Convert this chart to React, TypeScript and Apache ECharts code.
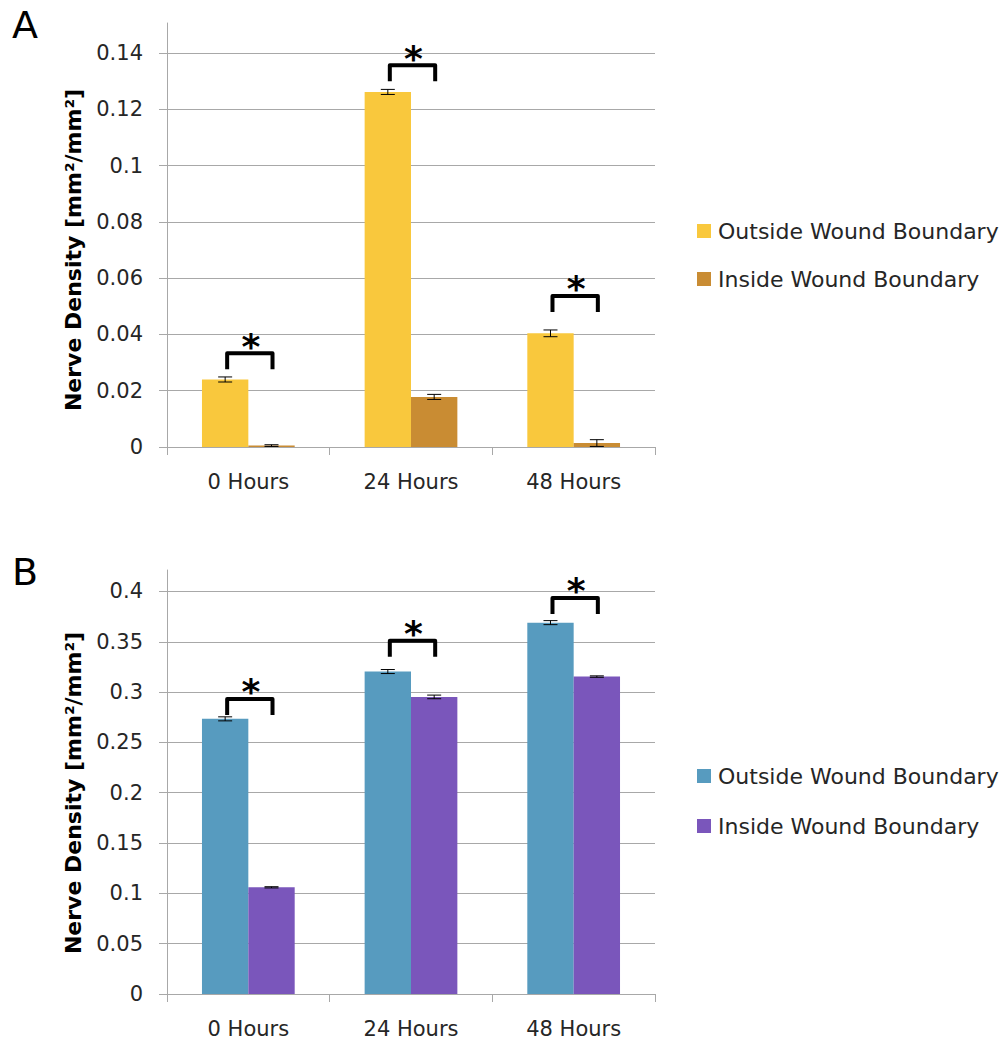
import React, { useEffect, useRef } from "react";
import * as echarts from "echarts";

const categories = ["0 Hours", "24 Hours", "48 Hours"];
const legendLabels: Record<string, string> = {
  outA: "Outside Wound Boundary",
  inA: "Inside Wound Boundary",
  outB: "Outside Wound Boundary",
  inB: "Inside Wound Boundary",
};

// Panel A
const outsideA = [0.024, 0.1262, 0.0404];
const outsideErrA = [0.0009, 0.0009, 0.0012];
const insideA = [0.0005, 0.0178, 0.0014];
const insideErrA = [0.0003, 0.0009, 0.0012];
const bracketA = [0.0333, 0.1357, 0.0537];
const yTicksA = [0, 0.02, 0.04, 0.06, 0.08, 0.1, 0.12, 0.14];
const yMaxA = 0.1507;

// Panel B
const outsideB = [0.2734, 0.3204, 0.369];
const outsideErrB = [0.002, 0.002, 0.002];
const insideB = [0.106, 0.2952, 0.3154];
const insideErrB = [0.0006, 0.0018, 0.0007];
const bracketB = [0.2932, 0.3509, 0.3936];
const yTicksB = [0, 0.05, 0.1, 0.15, 0.2, 0.25, 0.3, 0.35, 0.4];
const yMaxB = 0.4213;

const colorsA = ["#F9C83D", "#C98C33"];
const colorsB = ["#579BBF", "#7A56BB"];

const FONT = "'DejaVu Sans', sans-serif";
const GRID_COLOR = "#a8a8a8";
const TEXT_COLOR = "#262626";
const CAT_GAP = 0.43;

function errorRender(params: any, api: any) {
  const idx = api.value(0);
  const val = api.value(1);
  const err = api.value(2);
  const side = api.value(3);
  const band = api.size([1, 0])[0];
  const bw = (band * (1 - CAT_GAP)) / 2;
  const c = api.coord([idx, val]);
  const x = c[0] + (side * bw) / 2;
  const hi = api.coord([idx, val + err])[1];
  const lo = api.coord([idx, Math.max(0, val - err)])[1];
  const cap = 7;
  const st = { stroke: "#000", lineWidth: 1 };
  return {
    type: "group",
    children: [
      { type: "line", shape: { x1: x, y1: hi, x2: x, y2: lo }, style: st },
      { type: "line", shape: { x1: x - cap, y1: hi, x2: x + cap, y2: hi }, style: st },
      { type: "line", shape: { x1: x - cap, y1: lo, x2: x + cap, y2: lo }, style: st },
    ],
  };
}

function bracketRender(params: any, api: any) {
  const idx = api.value(0);
  const top = api.value(1);
  const band = api.size([1, 0])[0];
  const bw = (band * (1 - CAT_GAP)) / 2;
  const c = api.coord([idx, top]);
  const x1 = c[0] - bw / 2 + 2;
  const x2 = c[0] + bw / 2 + 1;
  const y = c[1];
  const leg = 16;
  return {
    type: "group",
    children: [
      {
        type: "polyline",
        shape: { points: [[x1, y + leg], [x1, y], [x2, y], [x2, y + leg]] },
        style: { stroke: "#000", lineWidth: 4, fill: null, lineJoin: "round" },
      },
      {
        type: "text",
        style: {
          text: "*",
          x: (x1 + x2) / 2 + 1,
          y: y - 7,
          align: "center",
          verticalAlign: "middle",
          fontSize: 36,
          fontWeight: "bold",
          fontFamily: FONT,
          fill: "#000",
        },
      },
    ],
  };
}

function makeAxes(gi: number, yMax: number, interval: number, ticks: number[]) {
  const x = {
    type: "category",
    gridIndex: gi,
    data: categories,
    axisLine: { show: true, lineStyle: { color: GRID_COLOR, width: 1 } },
    axisTick: { show: true, length: 8, lineStyle: { color: GRID_COLOR } },
    axisLabel: { fontSize: 21, color: TEXT_COLOR, margin: 24, fontFamily: FONT },
  };
  const y = {
    type: "value",
    gridIndex: gi,
    min: 0,
    max: yMax,
    interval,
    axisLine: { show: true, lineStyle: { color: GRID_COLOR, width: 1 } },
    axisTick: { show: true, length: 8, lineStyle: { color: GRID_COLOR }, customValues: ticks },
    axisLabel: {
      fontSize: 21,
      color: TEXT_COLOR,
      margin: 24,
      fontFamily: FONT,
      customValues: ticks,
      formatter: (v: number) => String(+v.toFixed(4)),
    },
    splitLine: { show: true, lineStyle: { color: GRID_COLOR, width: 1 } },
  };
  return { x, y };
}

function barSeries(name: string, gi: number, data: number[], color: string) {
  return {
    name,
    type: "bar",
    xAxisIndex: gi,
    yAxisIndex: gi,
    data,
    barGap: "0%",
    barCategoryGap: CAT_GAP * 100 + "%",
    itemStyle: { color },
    z: 2,
  };
}

function errSeries(gi: number, vals: number[], errs: number[], side: number) {
  return {
    type: "custom",
    name: "err" + gi + side,
    xAxisIndex: gi,
    yAxisIndex: gi,
    renderItem: errorRender,
    encode: { x: 0, y: 1 },
    data: vals.map((v, i) => [i, v, errs[i], side]),
    z: 5,
    silent: true,
  };
}

function bracketSeries(gi: number, tops: number[]) {
  return {
    type: "custom",
    name: "br" + gi,
    xAxisIndex: gi,
    yAxisIndex: gi,
    renderItem: bracketRender,
    encode: { x: 0, y: 1 },
    data: tops.map((t, i) => [i, t]),
    z: 6,
    silent: true,
  };
}

export default function App() {
  const ref = useRef<HTMLDivElement>(null);
  useEffect(() => {
    if (!ref.current) return;
    const chart = echarts.init(ref.current, null, { renderer: "svg" });
    const a = makeAxes(0, yMaxA, 0.02, yTicksA);
    const b = makeAxes(1, yMaxB, 0.05, yTicksB);
    const titleText = "Nerve Density [mm²/mm²]";
    const legendCommon = {
      orient: "vertical",
      left: 697,
      padding: 0,
      itemWidth: 14,
      itemHeight: 14,
      icon: "rect",
      selectedMode: false,
      formatter: (n: string) => legendLabels[n],
      textStyle: { fontSize: 22, color: TEXT_COLOR, fontFamily: FONT, lineHeight: 22, padding: [0, 0, 0, 2] },
    };
    chart.setOption({
      animation: false,
      backgroundColor: "#fff",
      grid: [
        { left: 167, top: 23, width: 488, height: 424 },
        { left: 167, top: 570, width: 488, height: 424 },
      ],
      xAxis: [a.x, b.x],
      yAxis: [a.y, b.y],
      legend: [
        { ...legendCommon, top: 220, itemGap: 26, data: ["outA", "inA"] },
        { ...legendCommon, top: 765, itemGap: 28, data: ["outB", "inB"] },
      ],
      graphic: [
        { type: "text", left: 12, top: 6, style: { text: "A", fontSize: 38, fontFamily: FONT, fill: "#000" } },
        { type: "text", left: 12, top: 553, style: { text: "B", fontSize: 38, fontFamily: FONT, fill: "#000" } },
        {
          type: "text",
          x: 73,
          y: 250,
          rotation: Math.PI / 2,
          style: { text: titleText, align: "center", verticalAlign: "middle", fontSize: 22, fontWeight: "bold", fontFamily: FONT, fill: "#000" },
        },
        {
          type: "text",
          x: 73,
          y: 793,
          rotation: Math.PI / 2,
          style: { text: titleText, align: "center", verticalAlign: "middle", fontSize: 22, fontWeight: "bold", fontFamily: FONT, fill: "#000" },
        },
      ],
      series: [
        barSeries("outA", 0, outsideA, colorsA[0]),
        barSeries("inA", 0, insideA, colorsA[1]),
        errSeries(0, outsideA, outsideErrA, -1),
        errSeries(0, insideA, insideErrA, 1),
        bracketSeries(0, bracketA),
        barSeries("outB", 1, outsideB, colorsB[0]),
        barSeries("inB", 1, insideB, colorsB[1]),
        errSeries(1, outsideB, outsideErrB, -1),
        errSeries(1, insideB, insideErrB, 1),
        bracketSeries(1, bracketB),
      ],
    });
    return () => chart.dispose();
  }, []);
  return (
    <div
      ref={ref}
      style={{ position: "absolute", left: 0, top: 0, width: 1005, height: 1043, background: "#fff" }}
    />
  );
}
